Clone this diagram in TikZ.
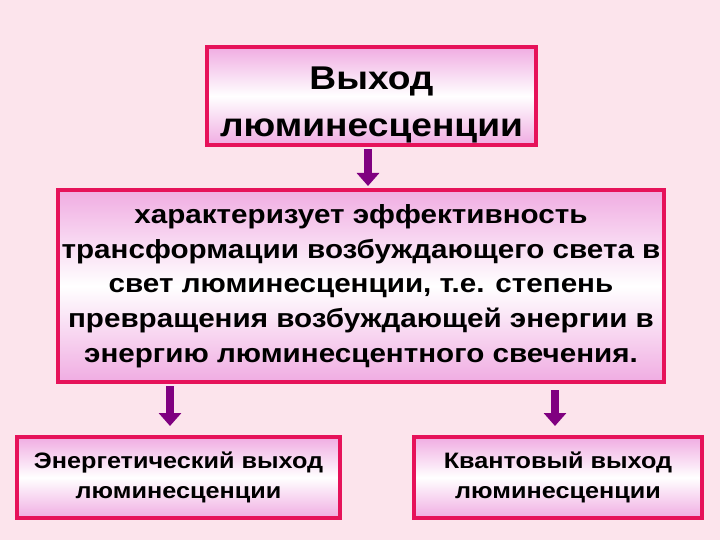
\documentclass[tikz,border=0pt]{standalone}
\usepackage{fontspec}
\setmainfont{Liberation Sans}
\newfontfamily\widefont[FakeStretch=1.13]{Liberation Sans}
\usetikzlibrary{arrows.meta}
\definecolor{bgpink}{RGB}{252,228,236}
\definecolor{edgec}{RGB}{230,18,90}
\definecolor{shadec}{RGB}{240,172,226}
\definecolor{arrc}{RGB}{128,0,128}
\tikzset{
  box/.style={draw=edgec, line width=4bp, top color=shadec, bottom color=shadec, middle color=white, inner sep=0pt, align=center},
  conn/.style={draw=arrc, line width=8bp, -{Triangle[width=22bp,length=13bp]}},
}
\begin{document}
\begin{tikzpicture}[x=1bp,y=-1bp]
\fill[bgpink] (0,0) rectangle (720,540);
\useasboundingbox (0,0) rectangle (720,540);
\node[box, minimum width=329bp, minimum height=98bp, font=\widefont\bfseries\fontsize{33}{47}\selectfont] (top) at (371.5,96) {\rule{0pt}{40bp}Выход\\люминесценции};
\node[box, minimum width=606bp, minimum height=192bp, font=\widefont\bfseries\fontsize{26.3}{34.8}\selectfont] (mid) at (361,286) {характеризует эффективность\\трансформации возбуждающего света в\\свет люминесценции, т.е. степень\\превращения возбуждающей энергии в\\энергию люминесцентного свечения.};
\node[box, minimum width=323bp, minimum height=81bp, font=\widefont\bfseries\fontsize{22.4}{30}\selectfont] (bl) at (178.5,477.5) {Энергетический выход\\люминесценции};
\node[box, minimum width=288bp, minimum height=81bp, font=\widefont\bfseries\fontsize{22.4}{30}\selectfont] (br) at (558,477.5) {Квантовый выход\\люминесценции};
\draw[conn, shorten <=2bp, shorten >=2bp] (top.south -| 368,0) -- (mid.north -| 368,0);
\draw[conn, shorten <=2bp, shorten >=9bp] (mid.south -| 170,0) -- (bl.north -| 170,0);
\draw[conn, shorten <=6bp, shorten >=9bp] (mid.south -| 555,0) -- (br.north -| 555,0);
\end{tikzpicture}
\end{document}
